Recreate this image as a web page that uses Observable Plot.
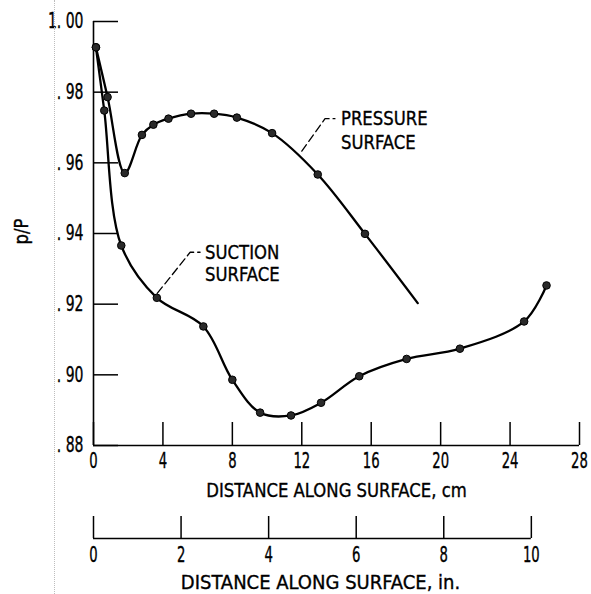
<!DOCTYPE html>
<html><head><meta charset="utf-8">
<script src="https://cdn.jsdelivr.net/npm/d3@7"></script>
<script src="https://cdn.jsdelivr.net/npm/@observablehq/plot@0.6"></script>
<style>
body{margin:0;background:#fff;}
#wrap{position:relative;width:591px;height:594px;overflow:hidden;background:#fff}
#scan{position:absolute;left:54px;top:0;height:594px;border-left:1px dotted #bdbdbd}
svg{display:block;background:transparent!important}
svg text{stroke:#000;stroke-width:0.35px}
</style></head><body><div id="wrap"><div id="scan"></div></div>
<script>
// ---- data ----
const cmTicks = [0, 4, 8, 12, 16, 20, 24, 28];
const inTicks = [0, 2, 4, 6, 8, 10];
const yTicks = [0.88, 0.90, 0.92, 0.94, 0.96, 0.98, 1.00];
const yTickLabels = [". 88", ". 90", ". 92", ". 94", ". 96", ". 98", "1. 00"];

const pressureCm = [0.14, 0.81, 1.80, 2.79, 3.45, 4.32, 5.62, 6.95, 8.26, 10.29, 12.92, 15.64];
const pressureP  = [0.9927, 0.9786, 0.9571, 0.9679, 0.9708, 0.9725, 0.9739, 0.9739, 0.9728, 0.9684, 0.9567, 0.9399];
const pressureEndCm = 18.68;   // curve ends here without a symbol
const pressureEndP = 0.9203;

const suctionCm = [0.14, 0.62, 1.60, 3.65, 6.33, 8.00, 9.60, 11.38, 13.11, 15.31, 18.04, 21.11, 24.81, 26.10];
const suctionP  = [0.9927, 0.9748, 0.9366, 0.9218, 0.9137, 0.8986, 0.8893, 0.8885, 0.8921, 0.8996, 0.9045, 0.9074, 0.9151, 0.9253];

const noteText = ["PRESSURE", "SURFACE", "SUCTION", "SURFACE"];
const noteCm   = [14.2, 14.2, 6.37, 6.37];
const noteP    = [0.9725, 0.9656, 0.9347, 0.9284];

const pressureLeaderCm = [12.0, 13.34, 13.91];
const pressureLeaderP  = [0.9633, 0.9725, 0.9725];
const suctionLeaderCm  = [3.68, 5.57, 6.14];
const suctionLeaderP   = [0.9231, 0.9347, 0.9347];

const cmTitle = "DISTANCE ALONG SURFACE, cm";
const inTitle = "DISTANCE ALONG SURFACE, in.";
const yTitle = "p/P";

// ---- build tables ----
const zip = (xs, ys) => xs.map((x, i) => ({x, y: ys[i]}));
const pressurePts = zip(pressureCm, pressureP);
const pressureLine = pressurePts.concat([{x: pressureEndCm, y: pressureEndP}]);
const suctionPts = zip(suctionCm, suctionP);
const notes = noteText.map((t, i) => ({t, x: noteCm[i], y: noteP[i]}));
const pLeader = zip(pressureLeaderCm, pressureLeaderP);
const sLeader = zip(suctionLeaderCm, suctionLeaderP);

const FONT = '"DejaVu Sans Condensed","DejaVu Sans",sans-serif';
const style = {fontFamily: FONT, fontSize: "21px", color: "#000", background: "transparent", overflow: "visible"};

const main = Plot.plot({
  width: 591, height: 505,
  marginLeft: 93, marginRight: 12, marginTop: 21, marginBottom: 60,
  style,
  x: {domain: [0, 28]},
  y: {domain: [0.88, 1.00]},
  marks: [
    Plot.ruleY([d3.min(yTicks)], {stroke: "#000", strokeWidth: 1.6}),
    Plot.ruleX([d3.min(cmTicks)], {stroke: "#000", strokeWidth: 1.6}),
    Plot.axisX({ticks: cmTicks, tickSize: -23, tickFormat: () => "", label: null, strokeWidth: 1.5}),
    Plot.axisX({ticks: cmTicks, tickSize: 0, tickPadding: 8, label: null}),
    Plot.axisY({ticks: yTicks, tickSize: -25, tickFormat: () => "", label: null, strokeWidth: 1.5}),
    Plot.axisY({ticks: yTicks, tickSize: 0, tickPadding: 10, label: null,
      tickFormat: d => yTickLabels[yTicks.indexOf(d)]}),
    Plot.line(pressureLine, {x: "x", y: "y", curve: "catmull-rom", stroke: "#000", strokeWidth: 2.3}),
    Plot.line(suctionPts, {x: "x", y: "y", curve: "catmull-rom", stroke: "#000", strokeWidth: 2.3}),
    Plot.dot(pressurePts, {x: "x", y: "y", r: 3.8, fill: "#2a2a2a", stroke: "#000", strokeWidth: 1}),
    Plot.dot(suctionPts, {x: "x", y: "y", r: 3.8, fill: "#2a2a2a", stroke: "#000", strokeWidth: 1}),
    Plot.line(pLeader, {x: "x", y: "y", stroke: "#000", strokeWidth: 1.3, strokeDasharray: "8,4"}),
    Plot.line(sLeader, {x: "x", y: "y", stroke: "#000", strokeWidth: 1.3, strokeDasharray: "8,4"}),
    Plot.text(notes, {x: "x", y: "y", text: "t", textAnchor: "start", lineAnchor: "middle", dx: 1, fill: "#000", fontSize: 20}),
    Plot.text([cmTitle], {frameAnchor: "bottom", textAnchor: "middle", lineAnchor: "middle", dy: 45, fill: "#000", fontSize: 20}),
    Plot.text([yTitle], {frameAnchor: "left", textAnchor: "middle", lineAnchor: "middle", rotate: -90, dx: -72, dy: -2, fill: "#000", fontSize: 20})
  ]
});

const inch = Plot.plot({
  width: 591, height: 89,
  marginLeft: 93, marginRight: 12, marginTop: 10, marginBottom: 56,
  style,
  x: {domain: [0, 11.1]},
  y: {domain: [0, 1], axis: null},
  marks: [
    Plot.ruleY([0], {x1: d3.min(inTicks), x2: d3.max(inTicks), stroke: "#000", strokeWidth: 1.6}),
    Plot.axisX({ticks: inTicks, tickSize: -22, tickFormat: () => "", label: null, strokeWidth: 1.5}),
    Plot.axisX({ticks: inTicks, tickSize: 0, tickPadding: 9, label: null}),
    Plot.text([inTitle], {frameAnchor: "bottom", textAnchor: "middle", lineAnchor: "middle", dy: 44, dx: -16, fill: "#000", fontSize: 20})
  ]
});

const wrap = document.getElementById("wrap");
wrap.appendChild(main);
wrap.appendChild(inch);

// narrow the type horizontally, like the condensed lettering of the original
function squeeze(svg, selector, k) {
  svg.querySelectorAll(selector).forEach(t => {
    const w = t.getComputedTextLength();
    if (w > 0) {
      t.setAttribute("textLength", (w * k).toFixed(1));
      t.setAttribute("lengthAdjust", "spacingAndGlyphs");
    }
  });
}
squeeze(main, 'g[aria-label="x-axis tick label"] text', 0.7);
squeeze(inch, 'g[aria-label="x-axis tick label"] text', 0.7);
squeeze(main, 'g[aria-label="y-axis tick label"] text', 0.74);
squeeze(main, 'g[aria-label="text"] text', 0.915);
squeeze(inch, 'g[aria-label="text"] text', 1.0);
</script>
</body></html>
